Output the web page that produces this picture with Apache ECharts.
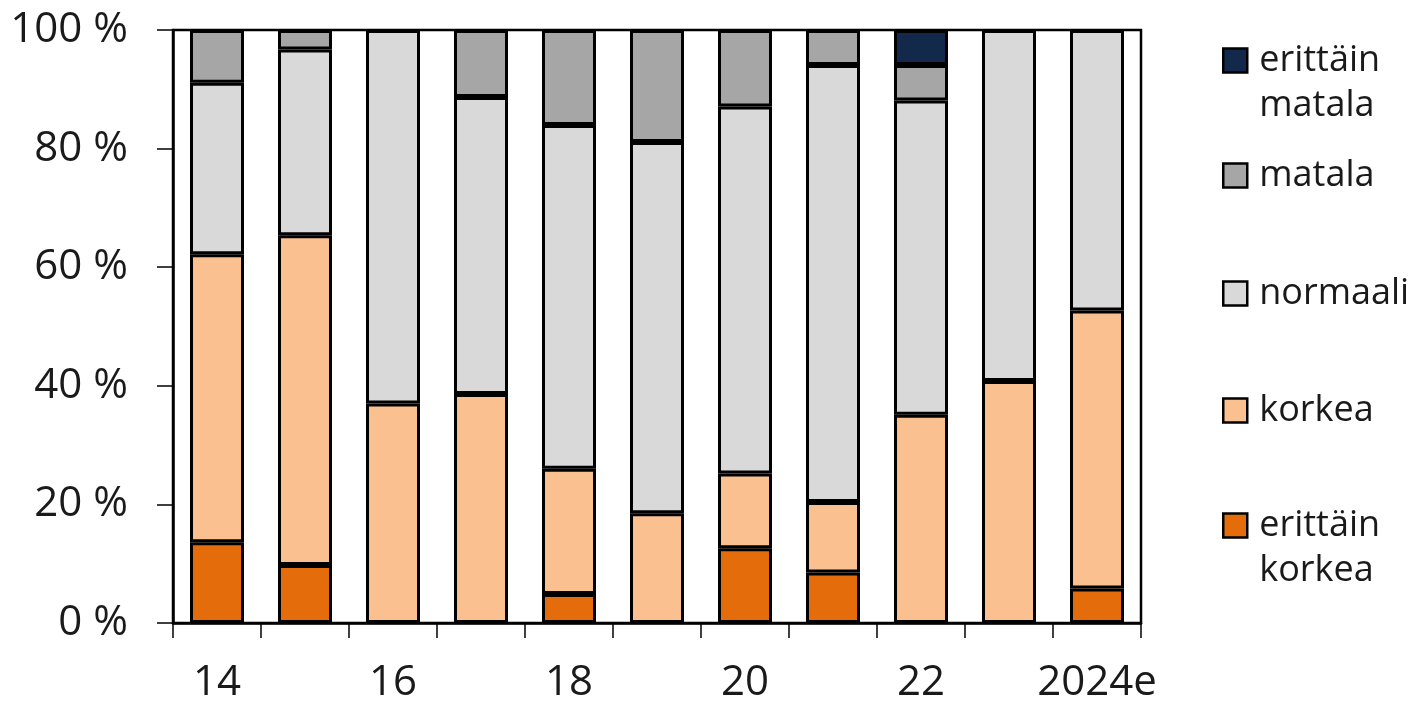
<!DOCTYPE html>
<html>
<head>
<meta charset="utf-8">
<script src="https://cdn.jsdelivr.net/npm/echarts@6/dist/echarts.min.js"></script>
<style>
html,body{margin:0;padding:0;background:#fff;}
#chart{width:1414px;height:707px;}
</style>
</head>
<body>
<div id="chart"></div>
<script>
// Categories (years)
const categories = ['14', '15', '16', '17', '18', '19', '20', '21', '22', '23', '2024e'];
// Shares (%) per class, stacked bottom to top
const erittainKorkea = [13.6, 9.8, null, null, 4.9, null, 12.6, 8.5, null, null, 5.8];
const korkea        = [48.6, 55.6, 37.0, 38.6, 21.1, 18.5, 12.6, 11.9, 35.1, 40.8, 46.9];
const normaali      = [28.9, 31.3, 63.0, 50.1, 58.0, 62.6, 61.9, 73.7, 53.0, 59.2, 47.3];
const matala        = [8.9, 3.3, null, 11.3, 16.0, 18.9, 12.9, 5.9, 6.0, null, null];
const erittainMatala = [null, null, null, null, null, null, null, null, 5.9, null, null];
const yTicks = [0, 20, 40, 60, 80, 100];

const FONT = 'Open Sans';
const chart = echarts.init(document.getElementById('chart'));

function bar(name, data, color) {
  return {
    name: name, type: 'bar', stack: 'total', data: data, barWidth: 54,
    itemStyle: { color: color, borderColor: '#000', borderWidth: 3 }
  };
}

function legendItem(name, top, label) {
  return {
    data: [name], left: 1222, top: top, orient: 'vertical', padding: 0,
    itemWidth: 24, itemHeight: 24, icon: 'rect', selectedMode: false,
    itemStyle: { borderWidth: 2.5 },
    formatter: function () { return label; },
    textStyle: { fontFamily: FONT, fontSize: 36, color: '#1a1a1a', lineHeight: 45, padding: [0, 0, 0, 7] }
  };
}

chart.setOption({
  animation: false,
  backgroundColor: '#fff',
  grid: { left: 173, right: 273, top: 30, bottom: 84, show: true, borderColor: '#000', borderWidth: 2.5, backgroundColor: 'transparent' },
  legend: [
    legendItem('erittäin matala', 60 - 67, ' \nerittäin\nmatala'),
    legendItem('matala', 175 - 22, 'matala'),
    legendItem('normaali', 293 - 22, 'normaali'),
    legendItem('korkea', 410 - 22, 'korkea'),
    legendItem('erittäin korkea', 525 - 67, ' \nerittäin\nkorkea')
  ],
  xAxis: {
    type: 'category', data: categories,
    axisLine: { lineStyle: { color: '#000', width: 2.5 } },
    axisTick: { show: true, interval: 0, length: 15, lineStyle: { color: '#000', width: 1.5 } },
    axisLabel: { interval: 1, margin: 39, fontFamily: FONT, fontSize: 42, color: '#1a1a1a' }
  },
  yAxis: {
    type: 'value', min: yTicks[0], max: yTicks[yTicks.length - 1], interval: 20,
    splitLine: { show: false },
    axisLine: { show: true, lineStyle: { color: '#000', width: 2.5 } },
    axisTick: { show: true, length: 16, lineStyle: { color: '#000', width: 1.5 } },
    axisLabel: { margin: 45, fontFamily: FONT, fontSize: 42, color: '#1a1a1a', formatter: '{value} %' }
  },
  series: [
    bar('erittäin korkea', erittainKorkea, '#E46C0A'),
    bar('korkea', korkea, '#FAC090'),
    bar('normaali', normaali, '#D9D9D9'),
    bar('matala', matala, '#A6A6A6'),
    bar('erittäin matala', erittainMatala, '#13294C')
  ]
});
</script>
</body>
</html>
